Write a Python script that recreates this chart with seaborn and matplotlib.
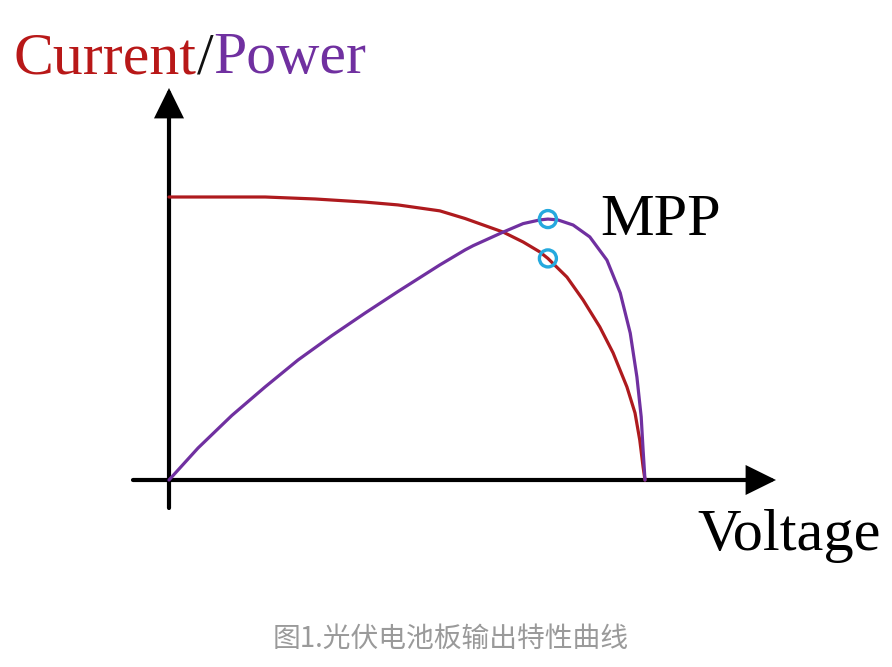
import matplotlib
matplotlib.use("Agg")
import matplotlib.pyplot as plt
import seaborn as sns
import pandas as pd

# ---- data (normalised: voltage 1.0 = Voc, current 1.0 = Isc) ----
v_current = [0, 0.202, 0.307, 0.412, 0.481, 0.569, 0.622, 0.702, 0.744, 0.779, 0.796,
             0.836, 0.870, 0.905, 0.933, 0.962, 0.979, 0.989, 0.996, 1.0]
current = [1.0, 1.0, 0.993, 0.982, 0.972, 0.951, 0.924, 0.876, 0.841, 0.806, 0.783,
           0.717, 0.636, 0.541, 0.449, 0.329, 0.237, 0.141, 0.046, 0.0]
v_power = [0, 0.061, 0.132, 0.202, 0.271, 0.342, 0.412, 0.481, 0.569, 0.622, 0.639, 0.702,
           0.744, 0.779, 0.796, 0.817, 0.849, 0.884, 0.920, 0.948, 0.969, 0.983, 0.992, 0.996, 1.0]
power = [0, 0.113, 0.228, 0.329, 0.424, 0.510, 0.590, 0.666, 0.760, 0.813, 0.828, 0.876,
         0.906, 0.919, 0.922, 0.919, 0.901, 0.859, 0.777, 0.661, 0.519, 0.364, 0.223, 0.106, 0.0]
mpp_v = [0.796, 0.796]
mpp_y = [0.922, 0.783]

title_parts = ["Current", "/", "Power"]
mpp_label = "MPP"
x_label = "Voltage"
caption = "图1.光伏电池板输出特性曲线"

RED = "#AE1A1E"
PURPLE = "#7030A0"
CYAN = "#25A9DE"

sns.set_theme(style="white")
plt.rcParams["font.family"] = ["Liberation Serif", "DejaVu Serif"]

W, H = 892, 667
fig = plt.figure(figsize=(W / 100, H / 100), dpi=100)
ax = fig.add_axes([0, 0, 1, 1])
# pixel mapping: origin at (169, 480); 476 px per voltage unit; 283 px per y unit
x0, y0, sx, sy = 169, 480, 476, 283
ax.set_xlim(-x0 / sx, (W - x0) / sx)
ax.set_ylim(-(H - y0) / sy, y0 / sy)
ax.axis("off")

def px(x):
    return (x - x0) / sx

def py(y):
    return (y0 - y) / sy

# axes with arrows
arrow_kw = dict(arrowstyle="-|>,head_length=0.85,head_width=0.42",
                mutation_scale=20, lw=3.0, color="black", shrinkA=0, shrinkB=0,
                joinstyle="miter")
ax.annotate("", xy=(px(776), 0), xytext=(px(133), 0), arrowprops=arrow_kw, zorder=1)
ax.annotate("", xy=(0, py(88)), xytext=(0, py(508)), arrowprops=arrow_kw, zorder=1)

df_i = pd.DataFrame({"v": v_current, "y": current})
df_p = pd.DataFrame({"v": v_power, "y": power})
sns.lineplot(data=df_i, x="v", y="y", sort=False, color=RED, lw=2.3, ax=ax, zorder=3)
sns.lineplot(data=df_p, x="v", y="y", sort=False, color=PURPLE, lw=2.3, ax=ax, zorder=3)
for line in ax.lines:
    line.set_solid_joinstyle("round")
sns.scatterplot(x=mpp_v, y=mpp_y, s=150, facecolor="none", edgecolor=CYAN,
                linewidth=2.4, ax=ax, zorder=4)

fs = 43.5
ax.text(px(600), py(235), mpp_label, fontsize=fs, color="black", va="baseline", ha="left")
ax.text(px(697), py(550), x_label, fontsize=fs, color="black", va="baseline", ha="left")

# title in three coloured parts
fig.canvas.draw()
renderer = fig.canvas.get_renderer()
cur_x = 14
for txt, col in zip(title_parts, ["#B81818", "#111111", PURPLE]):
    t = fig.text(cur_x / W, 1 - 73 / H, txt, fontsize=43, color=col, va="baseline", ha="left")
    bb = t.get_window_extent(renderer=renderer)
    cur_x += bb.width

fig.text(0.505, 1 - 639 / H, caption, fontsize=20, color="#9A9A9A", ha="center", va="center",
         family=["Noto Sans CJK SC", "DejaVu Sans"], style="italic")

fig.savefig("out.png", dpi=100)
